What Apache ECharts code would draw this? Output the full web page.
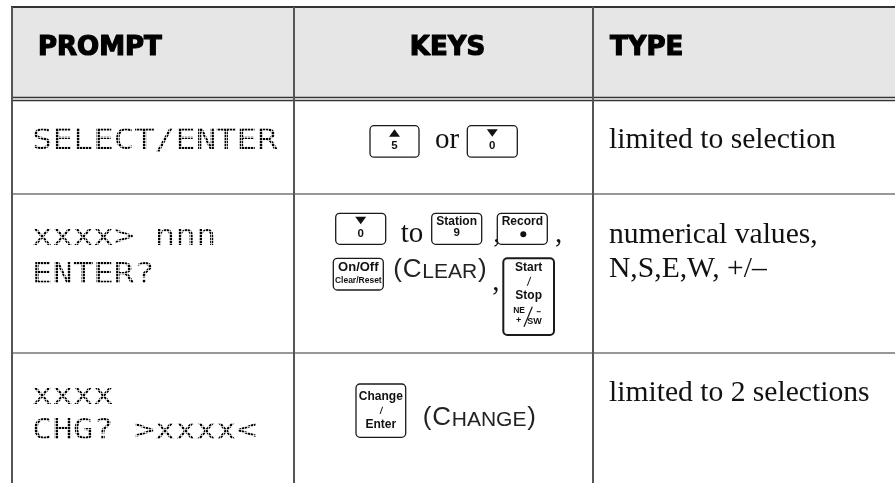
<!DOCTYPE html>
<html><head><meta charset="utf-8">
<script src="https://cdn.jsdelivr.net/npm/echarts@6/dist/echarts.min.js"></script>
<style>html,body{margin:0;padding:0;background:#fff}#c{width:895px;height:483px}</style>
</head><body><div id="c"></div>
<script>
// ---- table content ----
const headers = ['PROMPT', 'KEYS', 'TYPE'];
const prompts = [['SELECT/ENTER'], ['xxxx> nnn', 'ENTER?'], ['xxxx', 'CHG? >xxxx<']];
const types = [['limited to selection'], ['numerical values,', 'N,S,E,W, +/–'], ['limited to 2 selections']];
const keyTokens = [
  [['key', '▲', '5'], ['text', 'or'], ['key', '▼', '0']],
  [['key', '▼', '0'], ['text', 'to'], ['key', 'Station', '9'], ['text', ','], ['key', 'Record', '●'], ['text', ','],
   ['key', 'On/Off', 'Clear/Reset'], ['caps', 'CLEAR'], ['text', ','], ['key', 'Start', '/', 'Stop', 'NE', '-', '+', 'SW']],
  [['key', 'Change', '/', 'Enter'], ['caps', 'CHANGE']]
];

// ---- layout (positions relative to cell, not data) ----
const colEdges = [0, 282, 581, 883];
const rowEdges = [0, 90, 187, 346, 476];
const keyPlace = [
  [[76, 28.7, 49, 31.5], [141, 53.7], [173.3, 28.7, 50, 31.5]],
  [[41.7, 19.3, 50, 31], [106.7, 50.3], [137.7, 19.3, 50, 31], [199.3, 50], [203.3, 19.3, 50, 31], [261, 50],
   [39.3, 64.3, 50, 31.7], [99.3, 85.3], [198.3, 98], [209.3, 64.3, 50.7, 76.7]],
  [[62, 31, 49.7, 53.3], [128.7, 74.3]]
];
const promptBase = [[54.7], [53, 91], [53, 88]];
const typeBase = [[53], [51, 85], [50.3]];

const KF = 'Liberation Sans';
const SF = 'Liberation Serif';
const HF = 'DejaVu Sans';
const MF = 'DejaVu Sans Mono';

const mctx = document.createElement('canvas').getContext('2d');
function tw(text, font) { mctx.font = font; return mctx.measureText(text).width; }

function T(x, baseline, text, family, size, weight, align, fill, extra) {
  const st = {
    text: text, fontFamily: family, fontSize: size, fontWeight: weight || 'normal',
    fill: fill || '#111', align: align || 'left', verticalAlign: 'middle'
  };
  if (extra) Object.assign(st, extra);
  return { type: 'text', x: x, y: baseline - 0.346 * size, silent: true, style: st };
}
function L(x1, y1, x2, y2, w, c) {
  return { type: 'line', silent: true, shape: { x1, y1, x2, y2 }, style: { stroke: c || '#111', lineWidth: w || 1 } };
}

function keyEls(tok, x, y, w, h) {
  const lab = tok.slice(1);
  const els = [{ type: 'rect', shape: { x, y, width: w, height: h, r: 4 },
    style: { fill: '#fff', stroke: '#1a1a1a', lineWidth: lab[0] === 'Start' ? 2 : 1.3 } }];
  const cx = x + w / 2;
  if (lab[0] === '▲' || lab[0] === '▼') {
    const t = y + 3.5, b = y + 11;
    const pts = lab[0] === '▲' ? [[cx, t], [cx + 5.5, b], [cx - 5.5, b]] : [[cx - 5.5, t], [cx + 5.5, t], [cx, b]];
    els.push({ type: 'polygon', shape: { points: pts }, style: { fill: '#111' } });
    els.push(T(cx, y + 24.5, lab[1], KF, 11.5, 'bold', 'center'));
  } else if (lab[0] === 'Start') {
    els.push(T(cx, y + 13.4, lab[0], KF, 12, 'bold', 'center'));
    els.push(L(x + 27.5, y + 18.5, x + 24, y + 27.5, 1));
    els.push(T(cx, y + 42, lab[2], KF, 12, 'bold', 'center'));
    els.push(L(x + 29, y + 48.4, x + 20.7, y + 68.4, 1.2));
    els.push(T(x + 21.7, y + 55, lab[3], KF, 8.5, 'bold', 'right'));
    els.push(L(x + 33.4, y + 53.4, x + 37.4, y + 53.4, 1));
    els.push(T(x + 15.4, y + 65.5, lab[5], KF, 9, 'bold', 'center'));
    els.push(T(x + 24, y + 66.7, lab[6], KF, 9, 'bold', 'left'));
  } else if (lab[0] === 'Change') {
    els.push(T(cx, y + 16.5, lab[0], KF, 12, 'bold', 'center'));
    els.push(L(cx + 1.8, y + 22.7, cx - 0.8, y + 30, 1));
    els.push(T(cx, y + 45.3, lab[2], KF, 12, 'bold', 'center'));
  } else if (lab[0] === 'On/Off') {
    els.push(T(cx, y + 13.4, lab[0], KF, 13, 'bold', 'center'));
    els.push(T(cx, y + 25.7, lab[1], KF, 8.5, 'bold', 'center'));
  } else {
    els.push(T(cx, y + 12.7, lab[0], KF, 12, 'bold', 'center'));
    if (lab[1] === '●') els.push({ type: 'circle', shape: { cx: cx + 1, cy: y + 21, r: 3 }, style: { fill: '#111' } });
    else els.push(T(cx, y + 24, lab[1], KF, 11.5, 'bold', 'center'));
  }
  return els;
}

function capsEls(word, x, baseline) {
  const big = 26, small = 21, els = [];
  let cx = x;
  [['(', big], [word[0], big], [word.slice(1), small], [')', big]].forEach(([t, s]) => {
    els.push(T(cx, baseline, t, KF, s, 'normal', 'left', '#222'));
    cx += tw(t, s + 'px "' + KF + '"') + (t === ')' ? 0 : 0.8);
  });
  return els;
}

// dot-matrix screen: thin white grid over the LCD-style prompt glyphs
function dotGrid(x0, y0, x1, y1) {
  const els = [];
  for (let x = x0; x <= x1; x += 3) els.push(L(x + 0.5, y0, x + 0.5, y1, 0.7, '#fff'));
  for (let y = y0; y <= y1; y += 3) els.push(L(x0, y + 0.5, x1, y + 0.5, 0.7, '#fff'));
  return els;
}

const cells = [];
for (let r = 0; r < 4; r++) for (let c = 0; c < 3; c++) cells.push([c, r]);
const rules = [[0, 0], [0, 1], [0, 2], [0, 3], [1, 0], [1, 1], [1, 2]];

function renderCell(params, api) {
  const c = api.value(0), r = api.value(1);
  const p0 = api.coord([colEdges[c], rowEdges[r]]);
  const p1 = api.coord([colEdges[c + 1], rowEdges[r + 1]]);
  const x0 = p0[0], y0 = p0[1], x1 = p1[0], y1 = p1[1];
  let ch = [];
  if (r === 0) {
    ch.push({ type: 'rect', shape: { x: x0, y: y0, width: x1 - x0 + 20, height: y1 - y0 }, style: { fill: '#e6e6e6' } });
    const hx = c === 0 ? x0 + 26 : c === 1 ? (x0 + x1) / 2 + 4 : x0 + 17;
    ch.push(T(hx, y0 + 50.5, headers[c], HF, 26, 'bold', c === 1 ? 'center' : 'left', '#000',
      { stroke: '#000', lineWidth: 1.2 }));
  } else {
    const i = r - 1;
    if (c === 0) {
      prompts[i].forEach((s, k) => {
        ch.push({ type: 'group', x: x0 + 20, y: y0 + promptBase[i][k], scaleX: 1.18,
          children: [T(0, 0, s, MF, 28.8, 'normal', 'left', '#000')] });
      });
      ch = ch.concat(dotGrid(Math.floor(x0 + 16), Math.floor(y0 + 4), Math.floor(x1 - 4), Math.floor(y1 - 4)));
    } else if (c === 1) {
      keyTokens[i].forEach((tok, k) => {
        const pl = keyPlace[i][k];
        if (tok[0] === 'key') ch = ch.concat(keyEls(tok, x0 + pl[0], y0 + pl[1], pl[2], pl[3]));
        else if (tok[0] === 'text') ch.push(T(x0 + pl[0], y0 + pl[1], tok[1], SF, 29, 'normal', 'left'));
        else ch = ch.concat(capsEls(tok[1], x0 + pl[0], y0 + pl[1]));
      });
    } else {
      types[i].forEach((s, k) => ch.push(T(x0 + 16, y0 + typeBase[i][k], s, SF, 29.6, 'normal', 'left')));
    }
  }
  return { type: 'group', children: ch };
}

function renderRule(params, api) {
  const kind = api.value(0), idx = api.value(1);
  const a = api.coord([colEdges[0], rowEdges[0]]);
  const W = 900, H = 490;
  if (kind === 0) {
    const y = api.coord([0, rowEdges[idx]])[1];
    if (idx === 0) return L(a[0] - 1, y, W, y, 2, '#333');
    if (idx === 1) return { type: 'group', children: [L(a[0], y + 0.5, W, y + 0.5, 1.4, '#333'), L(a[0], y + 3.5, W, y + 3.5, 1.4, '#333')] };
    return L(a[0], y, W, y, 1.2, '#333');
  }
  const x = api.coord([colEdges[idx], 0])[0];
  return L(x, a[1], x, H, 2, '#555');
}

const chart = echarts.init(document.getElementById('c'), null, { renderer: 'canvas' });
chart.setOption({
  animation: false,
  backgroundColor: '#fff',
  grid: { left: 12, right: 0, top: 7, bottom: 0, containLabel: false },
  xAxis: { type: 'value', min: 0, max: 883, show: false },
  yAxis: { type: 'value', min: 0, max: 476, inverse: true, show: false },
  series: [
    { type: 'custom', renderItem: renderCell, data: cells, z: 1, silent: true },
    { type: 'custom', renderItem: renderRule, data: rules, z: 2, silent: true }
  ]
});
</script></body></html>
